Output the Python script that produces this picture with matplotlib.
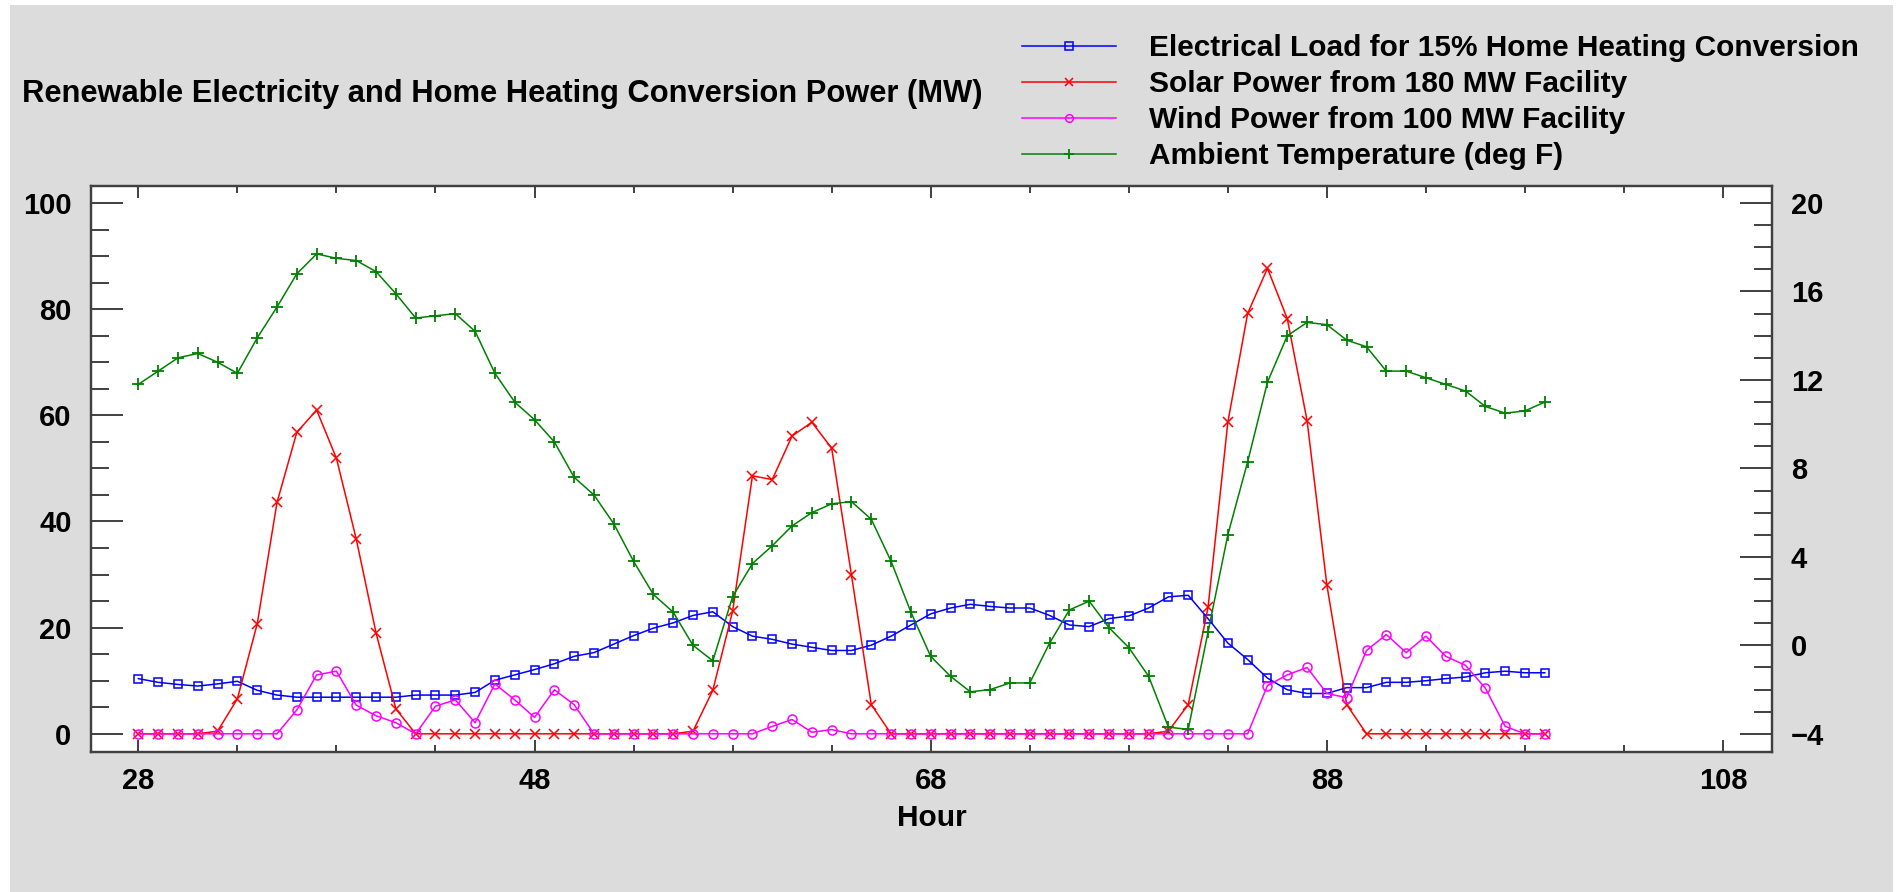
import matplotlib
matplotlib.use("Agg")
import numpy as np
import matplotlib.pyplot as plt
from matplotlib.ticker import FixedLocator, MultipleLocator
from matplotlib.patches import Rectangle

plt.rcParams['font.family'] = ['Liberation Sans', 'DejaVu Sans']
plt.rcParams['font.weight'] = 'bold'

hours = list(range(28, 100))

# MW, left axis
load = [10.4, 9.7, 9.3, 9.0, 9.4, 9.9, 8.2, 7.3, 6.9, 6.9,
        6.9, 6.9, 6.9, 6.9, 7.3, 7.3, 7.3, 7.8, 10.1, 11.1,
        12.1, 13.2, 14.6, 15.3, 16.9, 18.5, 19.9, 20.9, 22.3, 23.0,
        20.2, 18.4, 17.8, 16.9, 16.3, 15.7, 15.7, 16.7, 18.4, 20.5,
        22.6, 23.7, 24.4, 24.0, 23.7, 23.7, 22.3, 20.5, 20.2, 21.7,
        22.2, 23.7, 25.8, 26.1, 21.7, 17.1, 14.0, 10.5, 8.3, 7.6,
        7.6, 8.7, 8.7, 9.7, 9.7, 10.0, 10.4, 10.7, 11.5, 11.8,
        11.5, 11.5]
solar = [0, 0, 0, 0, 0.5, 6.6, 20.7, 43.6, 56.8, 61.0,
         51.9, 36.7, 19.0, 4.7, 0, 0, 0, 0, 0, 0,
         0, 0, 0, 0, 0, 0, 0, 0, 0.5, 8.2,
         23.1, 48.6, 47.9, 56.1, 58.7, 53.8, 29.9, 5.5, 0, 0,
         0, 0, 0, 0, 0, 0, 0, 0, 0, 0,
         0, 0, 0.5, 5.5, 23.8, 58.7, 79.2, 87.7, 78.2, 59.0,
         28.0, 5.5, 0, 0, 0, 0, 0, 0, 0, 0,
         0, 0]
wind = [0, 0, 0, 0, 0, 0, 0, 0, 4.5, 11.1,
        11.8, 5.4, 3.4, 2.1, 0, 5.2, 6.4, 2.1, 9.4, 6.4,
        3.1, 8.3, 5.5, 0, 0, 0, 0, 0, 0, 0,
        0, 0, 1.4, 2.7, 0.3, 0.8, 0, 0, 0, 0,
        0, 0, 0, 0, 0, 0, 0, 0, 0, 0,
        0, 0, 0, 0, 0, 0, 0, 9.1, 11.1, 12.5,
        7.6, 6.8, 15.7, 18.7, 15.3, 18.4, 14.6, 12.9, 8.6, 1.4,
        0, 0]
# deg F, right axis
temp = [11.8, 12.4, 13.0, 13.2, 12.8, 12.3, 13.9, 15.3, 16.8, 17.7,
        17.5, 17.4, 16.9, 15.9, 14.8, 14.9, 15.0, 14.2, 12.3, 11.0,
        10.2, 9.2, 7.6, 6.8, 5.5, 3.8, 2.3, 1.5, 0.0, -0.7,
        2.2, 3.7, 4.5, 5.4, 6.0, 6.4, 6.5, 5.7, 3.8, 1.5,
        -0.5, -1.4, -2.1, -2.0, -1.7, -1.7, 0.1, 1.6, 2.0, 0.8,
        -0.1, -1.4, -3.7, -3.8, 0.6, 5.0, 8.3, 11.9, 14.0, 14.6,
        14.5, 13.8, 13.5, 12.4, 12.4, 12.1, 11.8, 11.5, 10.8, 10.5,
        10.6, 11.0]

labels = ["Electrical Load for 15% Home Heating Conversion",
          "Solar Power from 180 MW Facility",
          "Wind Power from 100 MW Facility",
          "Ambient Temperature (deg F)"]

W, H = 1900, 892
fig = plt.figure(figsize=(19, 8.92), dpi=100)
fig.patch.set_facecolor('white')
fig.patches.append(Rectangle((10 / W, 0), 1883 / W, 887 / H, transform=fig.transFigure,
                             facecolor='#dcdcdc', edgecolor='none', zorder=-10))

ax = fig.add_axes([91 / W, 1 - 751.5 / H, 1681 / W, 565.5 / H])
ax.set_facecolor('white')
ax2 = ax.twinx()

l1, = ax.plot(hours, load, color='#0000ff', marker='s', mfc='none', ms=6, mew=1.1, lw=1.1)
l2, = ax.plot(hours, solar, color='#ff0000', marker='x', ms=6.5, mew=1.1, lw=1.1)
l3, = ax.plot(hours, wind, color='#ff00ff', marker='o', mfc='none', ms=6.5, mew=1.1, lw=1.1)
l4, = ax2.plot(hours, temp, color='#008000', marker='+', ms=8.5, mew=1.3, lw=1.1)

ax.set_xlim(25.61, 110.47)
ax.set_ylim(-3.33, 103.2)
ax2.set_ylim(-4.8, 20.77)

ax.xaxis.set_major_locator(FixedLocator([28, 48, 68, 88, 108]))
ax.xaxis.set_minor_locator(FixedLocator(np.arange(28, 111, 5)))
ax.yaxis.set_major_locator(MultipleLocator(20))
ax.yaxis.set_minor_locator(MultipleLocator(5))
ax2.yaxis.set_major_locator(MultipleLocator(4))
ax2.yaxis.set_minor_locator(MultipleLocator(1))

spc = '#404040'
for a in (ax, ax2):
    for s in a.spines.values():
        s.set_color(spc)
        s.set_linewidth(1.6)

ax.tick_params(axis='x', which='both', direction='in', top=True, colors=spc,
               labelcolor='black', labelsize=21, pad=11, width=1.4)
ax.tick_params(axis='x', which='major', length=8.6)
ax.tick_params(axis='x', which='minor', length=5)
ax.tick_params(axis='y', which='both', direction='in', colors=spc,
               labelcolor='black', labelsize=21, pad=14, width=1.4)
ax.tick_params(axis='y', which='major', length=23)
ax.tick_params(axis='y', which='minor', length=13)
ax2.tick_params(axis='y', which='both', direction='in', colors=spc,
                labelcolor='black', labelsize=21, pad=13.5, width=1.4)
ax2.tick_params(axis='y', which='major', length=23)
ax2.tick_params(axis='y', which='minor', length=13)

ax.set_xlabel('Hour', fontsize=21.5, fontweight='bold', labelpad=7)

fig.text(22 / W, 1 - 102 / H, 'Renewable Electricity and Home Heating Conversion Power (MW)',
         fontsize=22.2, fontweight='bold', ha='left', va='baseline')

fig.legend([l1, l2, l3, l4], labels, loc='upper left',
           bbox_to_anchor=(1022 / W, 1 - 34 / H), frameon=False,
           prop={'size': 21.5, 'weight': 'bold'},
           handlelength=3.15, handletextpad=1.1, labelspacing=0.27,
           borderpad=0, borderaxespad=0, markerscale=0.85)

fig.savefig('out.png', dpi=100, facecolor=fig.get_facecolor())
